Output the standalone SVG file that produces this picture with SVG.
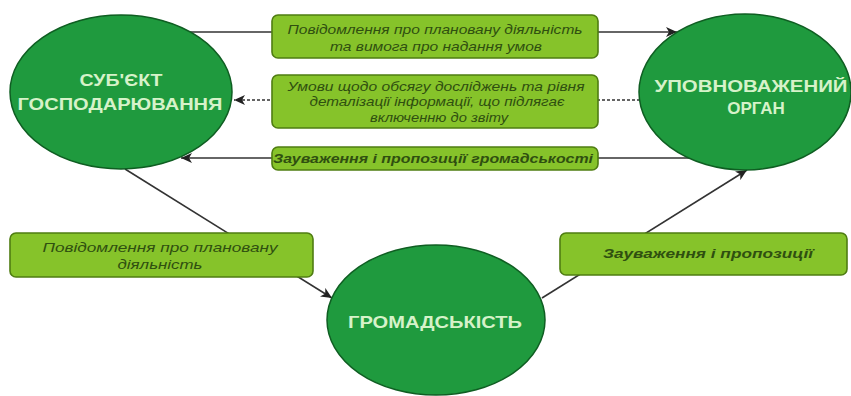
<svg xmlns="http://www.w3.org/2000/svg" width="851" height="396" viewBox="0 0 851 396">
<defs>
<marker id="ah" markerUnits="userSpaceOnUse" markerWidth="12" markerHeight="10" refX="11" refY="5" orient="auto">
<path d="M0,0 L11,5 L0,10 L3,5 z" fill="#222"/>
</marker>
<style>
.conn{stroke:#333;stroke-width:1.6;fill:none}
.dash{stroke-dasharray:3,2}
.ell{fill:#1f9a3e;stroke:#0f5e22;stroke-width:1.5}
.et{font-family:"Liberation Sans",Arial,sans-serif;font-weight:bold;font-size:17px;fill:#d6f2c9;text-anchor:middle}
.box{fill:#86c32a;stroke:#4f7d12;stroke-width:1.6}
.bt{font-family:"Liberation Sans",Arial,sans-serif;font-style:italic;font-size:13px;fill:#2f4f10;text-anchor:middle}
.bb{font-weight:bold}
</style>
</defs>
<rect width="851" height="396" fill="#ffffff"/>
<g id="connectors">
<line class="conn" x1="190" y1="32" x2="677" y2="32" marker-end="url(#ah)"/>
<line class="conn dash" x1="640" y1="100" x2="234" y2="100" marker-end="url(#ah)"/>
<line class="conn" x1="689" y1="158" x2="181" y2="158" marker-end="url(#ah)"/>
<line class="conn" x1="125" y1="169" x2="332" y2="298" marker-end="url(#ah)"/>
<line class="conn" x1="542" y1="298" x2="747" y2="170" marker-end="url(#ah)"/>
</g>
<g id="subject">
<ellipse class="ell" cx="121" cy="92" rx="111" ry="77"/>
<text class="et" x="121" y="86" textLength="83" lengthAdjust="spacingAndGlyphs">СУБ'ЄКТ</text>
<text class="et" x="120" y="110" textLength="205" lengthAdjust="spacingAndGlyphs">ГОСПОДАРЮВАННЯ</text>
</g>
<g id="authority">
<ellipse class="ell" cx="745" cy="92" rx="106" ry="78"/>
<text class="et" x="751" y="92" textLength="193" lengthAdjust="spacingAndGlyphs">УПОВНОВАЖЕНИЙ</text>
<text class="et" x="756" y="114">ОРГАН</text>
</g>
<g id="public">
<ellipse class="ell" cx="436" cy="320" rx="109" ry="75"/>
<text class="et" x="435" y="328" textLength="174" lengthAdjust="spacingAndGlyphs">ГРОМАДСЬКІСТЬ</text>
</g>
<g id="box-notice">
<rect class="box" x="272" y="15" width="326" height="43" rx="6"/>
<text class="bt" x="435" y="34" textLength="295" lengthAdjust="spacingAndGlyphs">Повідомлення про плановану діяльність</text>
<text class="bt" x="436" y="51" textLength="212" lengthAdjust="spacingAndGlyphs">та вимога про надання умов</text>
</g>
<g id="box-conditions">
<rect class="box" x="272" y="75" width="326" height="53" rx="6"/>
<text class="bt" x="436" y="91" textLength="297" lengthAdjust="spacingAndGlyphs">Умови щодо обсягу досліджень та рівня</text>
<text class="bt" x="437" y="106" textLength="255" lengthAdjust="spacingAndGlyphs">деталізації інформації, що підлягає</text>
<text class="bt" x="439" y="122" textLength="138" lengthAdjust="spacingAndGlyphs">включенню до звіту</text>
</g>
<g id="box-remarks-public">
<rect class="box" x="272" y="147" width="326" height="23" rx="6"/>
<text class="bt bb" x="433" y="163" textLength="320" lengthAdjust="spacingAndGlyphs">Зауваження і пропозиції громадськості</text>
</g>
<g id="box-notice-public">
<rect class="box" x="10" y="233" width="303" height="44" rx="6"/>
<text class="bt" x="160" y="252" textLength="235" lengthAdjust="spacingAndGlyphs">Повідомлення про плановану</text>
<text class="bt" x="160" y="269" textLength="85" lengthAdjust="spacingAndGlyphs">діяльність</text>
</g>
<g id="box-remarks">
<rect class="box" x="560" y="233" width="287" height="42" rx="6"/>
<text class="bt bb" x="708" y="258" textLength="210" lengthAdjust="spacingAndGlyphs">Зауваження і пропозиції</text>
</g>
</svg>
